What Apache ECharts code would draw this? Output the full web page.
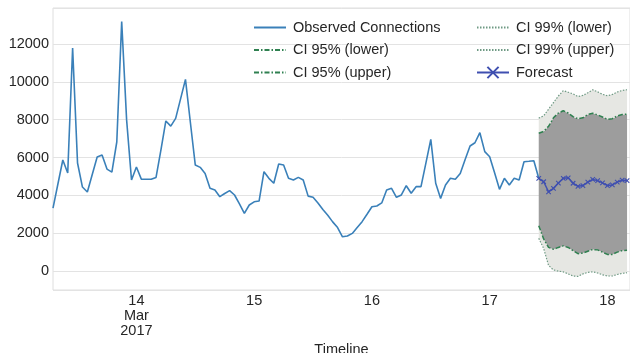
<!DOCTYPE html>
<html>
<head>
<meta charset="utf-8">
<script src="https://cdn.jsdelivr.net/npm/echarts@6/dist/echarts.min.js"></script>
<style>
  html, body { margin: 0; padding: 0; background: #ffffff; }
  #chart { width: 630px; height: 353px; }
</style>
</head>
<body>
<div id="chart"></div>
<script>
// Hourly connection counts, 13 Mar 2017 07:00 -> 17 Mar 2017 10:00 (UTC)
const HOUR = 3600 * 1000;
const observedStart = Date.UTC(2017, 2, 13, 7);
const observed = [
  3330, 4600, 5870, 5180, 11790, 5710, 4440, 4180, 5100, 6030,
  6130, 5390, 5230, 6820, 13180, 8000, 4810, 5500, 4860, 4850,
  4850, 4950, 6400, 7930, 7660, 8070, 9100, 10130, 7850, 5600,
  5480, 5160, 4370, 4280, 3930, 4100, 4250, 4020, 3550, 3050,
  3490, 3660, 3700, 5250, 4900, 4640, 5660, 5600, 4900, 4810,
  4950, 4810, 3960, 3900, 3600, 3250, 2950, 2600, 2300, 1810,
  1850, 1990, 2300, 2610, 3000, 3400, 3440, 3600, 4280, 4370,
  3900, 4020, 4510, 4110, 4460, 4460, 5700, 6960, 4640, 3840,
  4550, 4900, 4850, 5160, 5900, 6610, 6780, 7310, 6310, 6040,
  5200, 4320, 4900, 4550, 4900, 4810, 5780, 5800, 5830, 4900
];

// Hourly forecast with confidence bounds, 17 Mar 10:00 -> 18 Mar 04:00
const forecastStart = Date.UTC(2017, 2, 17, 10);
const forecast = [
  4900, 4720, 4190, 4370, 4650, 4900, 4930, 4640, 4480, 4520,
  4700, 4840, 4780, 4660, 4520, 4550, 4700, 4800, 4780
];
const ci95Lower = [
  2400, 1700, 1250, 1150, 1250, 1330, 1250, 1080, 920, 950,
  1050, 1140, 1120, 1000, 880, 880, 1000, 1080, 1100
];
const ci95Upper = [
  7280, 7380, 7650, 8100, 8350, 8470, 8350, 8160, 8050, 8100,
  8270, 8340, 8250, 8140, 8020, 8050, 8200, 8270, 8290
];
const ci99Lower = [
  1730, 1200, 300, 60, 0, -40, -150, -260, -280, -150,
  -70, -40, -100, -200, -260, -260, -180, -120, -90
];
const ci99Upper = [
  8080, 8200, 8550, 8900, 9250, 9530, 9450, 9360, 9220, 9280,
  9420, 9580, 9470, 9340, 9260, 9330, 9460, 9540, 9580
];

// Axis labels
const yTickValues = [0, 2000, 4000, 6000, 8000, 10000, 12000];
const xTickDays = [14, 15, 16, 17, 18];
const xTickLabels = ['14\nMar\n2017', '15', '16', '17', '18'];

const xMin = observedStart;
const xMax = Date.UTC(2017, 2, 18, 4, 36);

const withTime = (start, arr) => arr.map((v, i) => [start + i * HOUR, v]);
const diff = (a, b) => a.map((v, i) => v - b[i]);

const FONT = 'Liberation Sans, Arial, Helvetica, sans-serif';
const TEXT = '#262626';
const BLUE = '#3a80b9';
const FC = '#3f4fb0';
const GREEN95 = '#2f8050';
const GREEN99 = '#6f9a84';
const LIGHT = '#e6e7e3';
const DARK = '#9d9d9d';

const bandBase = {
  type: 'line', stack: 'ci', stackStrategy: 'all', symbol: 'none',
  lineStyle: { width: 0, opacity: 0 }, silent: true, z: 1
};

const legendCommon = {
  orient: 'vertical', top: 15, itemWidth: 32, itemHeight: 14, itemGap: 7.5,
  itemStyle: { opacity: 0 },
  textStyle: { fontSize: 14.5, color: TEXT, fontFamily: FONT, padding: [0, 0, 0, 2] }
};

const chart = echarts.init(document.getElementById('chart'), null, { renderer: 'canvas' });
chart.setOption({
  animation: false,
  useUTC: true,
  backgroundColor: '#ffffff',
  textStyle: { fontFamily: FONT },
  grid: {
    left: 53, right: 0, top: 8, bottom: 63,
    containLabel: false, outerBoundsMode: 'none',
    show: true, borderColor: '#dedede', borderWidth: 1, backgroundColor: 'transparent'
  },
  legend: [
    Object.assign({}, legendCommon, {
      left: 248,
      data: ['Observed Connections', 'CI 95% (lower)', 'CI 95% (upper)']
    }),
    Object.assign({}, legendCommon, {
      left: 471,
      data: ['CI 99% (lower)', 'CI 99% (upper)',
        { name: 'Forecast', itemStyle: { opacity: 1 } }]
    })
  ],
  xAxis: {
    type: 'time', min: xMin, max: xMax,
    minInterval: 24 * HOUR, maxInterval: 24 * HOUR,
    name: 'Timeline', nameLocation: 'middle', nameGap: 46,
    nameTextStyle: { fontSize: 14.5, color: TEXT, fontFamily: FONT },
    axisLine: { show: false }, axisTick: { show: false },
    splitLine: { show: false },
    axisLabel: {
      showMinLabel: false, showMaxLabel: false,
      fontSize: 14.5, color: TEXT, fontFamily: FONT, lineHeight: 15, margin: 3,
      formatter: (value) => {
        const d = new Date(value);
        if (d.getUTCHours() !== 0 || d.getUTCMinutes() !== 0) return '';
        const idx = xTickDays.indexOf(d.getUTCDate());
        return idx >= 0 ? xTickLabels[idx] : '';
      }
    }
  },
  yAxis: {
    type: 'value', min: -1000, max: 13900, splitNumber: 7,
    axisLine: { show: false }, axisTick: { show: false },
    splitLine: { lineStyle: { color: '#e3e3e3', width: 1 } },
    axisLabel: {
      showMinLabel: false, showMaxLabel: false,
      fontSize: 14.5, color: TEXT, fontFamily: FONT, margin: 4,
      formatter: (v) => (yTickValues.indexOf(v) >= 0 ? String(v) : '')
    }
  },
  series: [
    // confidence bands, stacked from the 99% lower bound upward
    Object.assign({}, bandBase, { name: 'band99base', data: withTime(forecastStart, ci99Lower) }),
    Object.assign({}, bandBase, { name: 'band99low', data: withTime(forecastStart, diff(ci95Lower, ci99Lower)),
      areaStyle: { color: LIGHT, opacity: 1 } }),
    Object.assign({}, bandBase, { name: 'band95', data: withTime(forecastStart, diff(ci95Upper, ci95Lower)),
      areaStyle: { color: DARK, opacity: 1 } }),
    Object.assign({}, bandBase, { name: 'band99high', data: withTime(forecastStart, diff(ci99Upper, ci95Upper)),
      areaStyle: { color: LIGHT, opacity: 1 } }),

    {
      name: 'Observed Connections', type: 'line', symbol: 'none', z: 4,
      color: BLUE, lineStyle: { color: BLUE, width: 1.6 },
      data: withTime(observedStart, observed)
    },
    {
      name: 'CI 95% (lower)', type: 'line', symbol: 'none', z: 3,
      color: GREEN95, lineStyle: { color: GREEN95, width: 1.5, type: [5, 2, 1.5, 2] },
      data: withTime(forecastStart, ci95Lower)
    },
    {
      name: 'CI 95% (upper)', type: 'line', symbol: 'none', z: 3,
      color: GREEN95, lineStyle: { color: GREEN95, width: 1.5, type: [5, 2, 1.5, 2] },
      data: withTime(forecastStart, ci95Upper)
    },
    {
      name: 'CI 99% (lower)', type: 'line', symbol: 'none', z: 3,
      color: GREEN99, lineStyle: { color: GREEN99, width: 1.2, type: [1.5, 1.5] },
      data: withTime(forecastStart, ci99Lower)
    },
    {
      name: 'CI 99% (upper)', type: 'line', symbol: 'none', z: 3,
      color: GREEN99, lineStyle: { color: GREEN99, width: 1.2, type: [1.5, 1.5] },
      data: withTime(forecastStart, ci99Upper)
    },
    {
      name: 'Forecast', type: 'line', z: 5,
      symbol: 'path://M0,0L10,10M0,10L10,0', symbolSize: 4.5, showSymbol: true,
      color: FC,
      itemStyle: { color: FC, borderColor: FC, borderWidth: 1.1 },
      lineStyle: { color: FC, width: 1.5 },
      data: withTime(forecastStart, forecast)
    }
  ]
});
</script>
</body>
</html>
